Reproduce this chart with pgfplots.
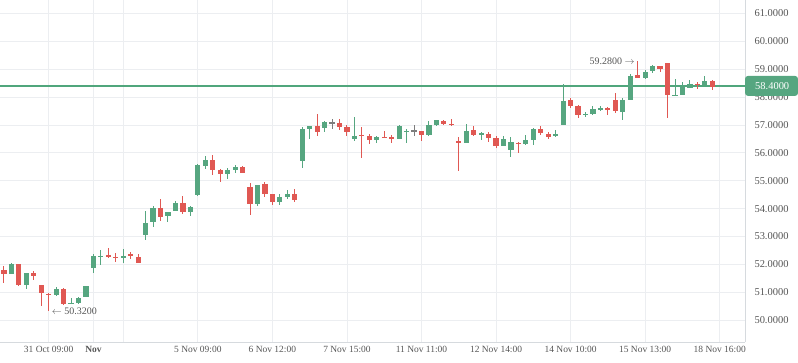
\documentclass[border=0pt]{standalone}
\usepackage{pgfplots}
\pgfplotsset{compat=1.18}
\usepackage{pgfplotstable}
\usepackage{fontspec}
\setmainfont{Liberation Serif}
\definecolor{cgreen}{RGB}{86,166,128}
\definecolor{lgreen}{RGB}{80,166,124}
\definecolor{cred}{RGB}{224,88,83}
\definecolor{cgray}{RGB}{125,125,125}
\definecolor{gridc}{RGB}{236,238,241}
\definecolor{axc}{RGB}{214,218,222}
\definecolor{txt}{RGB}{85,85,85}
\pgfplotstableread{
i o h l c k
0 51.81 51.95 51.32 51.67 0
1 51.67 52.07 51.67 52.03 1
2 52.03 52.03 51.24 51.27 0
3 51.28 51.70 51.13 51.68 1
4 51.69 51.75 51.43 51.60 0
5 51.26 51.26 50.52 50.96 0
6 50.95 50.99 50.32 50.93 0
7 50.91 51.18 50.88 51.13 1
8 51.13 51.15 50.56 50.58 0
9 50.58 50.79 50.58 50.63 1
10 50.63 50.84 50.58 50.81 1
11 50.82 51.24 50.82 51.24 1
12 51.86 52.38 51.70 52.30 1
13 52.28 52.51 51.97 52.30 1
14 52.34 52.59 52.25 52.28 0
15 52.27 52.42 52.07 52.26 0
16 52.22 52.55 52.06 52.30 1
17 52.37 52.43 52.20 52.29 0
18 52.28 52.37 52.04 52.07 0
19 53.05 53.92 52.89 53.49 1
20 53.51 54.08 53.33 54.04 1
21 54.03 54.35 53.57 53.69 0
22 53.72 53.89 53.51 53.89 1
23 53.90 54.26 53.90 54.21 1
24 54.21 54.44 53.81 53.89 0
25 53.88 54.08 53.72 54.05 1
26 54.48 55.60 54.44 55.56 1
27 55.53 55.88 55.42 55.76 1
28 55.76 55.92 55.20 55.38 0
29 55.38 55.42 54.95 55.25 0
30 55.23 55.46 55.05 55.38 1
31 55.38 55.56 55.28 55.49 1
32 55.49 55.52 55.28 55.28 0
33 54.77 54.91 53.76 54.17 0
34 54.17 54.84 54.08 54.84 1
35 54.87 54.96 54.41 54.53 0
36 54.51 54.51 54.13 54.24 0
37 54.24 54.51 54.15 54.41 1
38 54.42 54.66 54.33 54.51 1
39 54.51 54.69 54.24 54.30 0
40 55.72 56.93 55.45 56.86 1
41 56.86 56.96 56.51 56.96 1
42 56.96 57.40 56.62 56.75 0
43 56.90 57.16 56.74 57.10 1
44 57.08 57.23 56.87 57.08 2
45 57.07 57.22 56.83 56.94 0
46 56.92 56.99 56.62 56.75 0
47 56.50 57.29 56.42 56.60 1
48 56.65 56.93 55.82 56.63 0
49 56.59 56.69 56.33 56.47 0
50 56.47 56.61 56.37 56.57 1
51 56.57 56.78 56.55 56.55 0
52 56.58 56.64 56.37 56.51 0
53 56.51 57.00 56.51 56.96 1
54 56.74 56.85 56.37 56.80 1
55 56.80 57.00 56.60 56.80 2
56 56.79 56.79 56.44 56.65 0
57 56.64 57.14 56.62 57.00 1
58 57.00 57.18 56.98 57.18 1
59 57.14 57.19 56.99 57.05 0
60 57.04 57.22 56.95 57.03 0
61 56.42 56.56 55.35 56.37 0
62 56.37 57.04 56.37 56.78 1
63 56.82 56.96 56.59 56.64 0
64 56.64 56.76 56.46 56.71 1
65 56.67 56.76 56.39 56.55 0
66 56.55 56.59 56.19 56.25 0
67 56.25 56.59 56.25 56.50 1
68 56.12 56.57 55.85 56.39 1
69 56.35 56.40 56.01 56.33 0
70 56.32 56.64 56.29 56.46 1
71 56.47 56.89 56.28 56.87 1
72 56.86 56.96 56.65 56.73 0
73 56.68 56.75 56.50 56.57 0
74 56.61 56.82 56.58 56.68 1
75 57.01 58.48 57.01 57.86 1
76 57.90 57.96 57.62 57.69 0
77 57.68 57.72 57.26 57.37 0
78 57.37 57.47 57.30 57.39 1
79 57.39 57.68 57.35 57.56 1
80 57.57 57.69 57.49 57.59 1
81 57.60 57.65 57.36 57.53 0
82 57.90 58.16 57.44 57.50 0
83 57.47 57.96 57.18 57.90 1
84 57.91 58.82 57.91 58.76 1
85 58.78 59.28 58.69 58.69 0
86 58.69 58.97 58.65 58.90 1
87 58.94 59.16 58.87 59.12 1
88 59.12 59.12 58.90 59.01 0
89 59.21 59.21 57.25 58.09 0
90 58.06 58.66 58.03 58.08 1
91 58.09 58.54 58.09 58.37 1
92 58.34 58.61 58.34 58.46 1
93 58.46 58.54 58.30 58.45 0
94 58.45 58.76 58.45 58.57 1
95 58.57 58.61 58.27 58.36 0
96 58.37 58.41 58.36 58.40 1
}\candles
\pgfplotsset{
  candle/.style n args={3}{draw=none, mark=none, forget plot,
    restrict expr to domain={\thisrow{k}}{#1:#1},
    error bars/.cd, y dir=both, y explicit, error mark=none,
    error bar style={draw=#2, line width=#3}},
}
\begin{document}
\begin{tikzpicture}
\begin{axis}[
  scale only axis, width=745bp, height=342bp,
  xmin=-0.532, xmax=99.39, ymin=49.22, ymax=61.48,
  axis x line*=bottom, axis y line*=right,
  axis line style={draw=axc, line width=0.8bp},
  major tick length=0pt,
  grid=major, grid style={draw=gridc, line width=0.8bp},
  ytick={50,51,...,61},
  yticklabel={\pgfmathprintnumber[fixed, fixed zerofill, precision=4]{\tick}},
  /pgf/number format/assume math mode=true,
  yticklabel style={font=\fontsize{10.5}{11}\selectfont, text=txt, anchor=west, xshift=6bp},
  xtick={6,12,16,26,36,46,56,66,76,86,96},
  xticklabels={31 Oct 09:00,\textbf{Nov},,5 Nov 09:00,6 Nov 12:00,7 Nov 15:00,11 Nov 11:00,12 Nov 14:00,14 Nov 10:00,15 Nov 13:00,18 Nov 16:00},
  xticklabel style={font=\fontsize{9.5}{10}\selectfont, text=txt, yshift=-1bp},
]
\coordinate (bl) at (rel axis cs:0,0);
\coordinate (p584) at (axis cs:99.39,58.4);
% last-price line (58.4)
\addplot[draw=lgreen, line width=1.3bp, mark=none, forget plot]
  coordinates {(-0.6,58.4) (99.5,58.4)};
% wicks
\addplot[candle={1}{cgreen}{1bp}]
  table[x=i, y expr={(\thisrow{h}+\thisrow{l})/2}, y error expr={(\thisrow{h}-\thisrow{l})/2}] {\candles};
\addplot[candle={0}{cred}{1bp}]
  table[x=i, y expr={(\thisrow{h}+\thisrow{l})/2}, y error expr={(\thisrow{h}-\thisrow{l})/2}] {\candles};
\addplot[candle={2}{cgray}{1bp}]
  table[x=i, y expr={(\thisrow{h}+\thisrow{l})/2}, y error expr={(\thisrow{h}-\thisrow{l})/2}] {\candles};
% bodies
\addplot[candle={1}{cgreen}{5.2bp}]
  table[x=i, y expr={(\thisrow{o}+\thisrow{c})/2}, y error expr={max(abs(\thisrow{o}-\thisrow{c})/2,0.018)}] {\candles};
\addplot[candle={0}{cred}{5.2bp}]
  table[x=i, y expr={(\thisrow{o}+\thisrow{c})/2}, y error expr={max(abs(\thisrow{o}-\thisrow{c})/2,0.018)}] {\candles};
\addplot[candle={2}{cgray}{5.2bp}]
  table[x=i, y expr={(\thisrow{o}+\thisrow{c})/2}, y error expr={max(abs(\thisrow{o}-\thisrow{c})/2,0.018)}] {\candles};
\node[anchor=west, text=txt, font=\fontsize{10}{11}\selectfont, inner sep=0pt, xshift=3bp] at (axis cs:6,50.32) {$\leftarrow$ 50.3200};
\node[anchor=east, text=txt, font=\fontsize{10}{11}\selectfont, inner sep=0pt, xshift=-3bp] at (axis cs:85,59.28) {59.2800 $\rightarrow$};
\end{axis}
\fill[cgreen, rounded corners=3bp] ([yshift=-10bp]p584) rectangle ++(53bp,20bp);
\node[anchor=west, text=white, font=\fontsize{10.5}{11}\selectfont, inner sep=0pt] at ([xshift=10bp]p584) {58.4000};
\pgfresetboundingbox
\path[use as bounding box] ([yshift=-21bp]bl) rectangle ++(798bp,363bp);
\end{tikzpicture}
\end{document}
